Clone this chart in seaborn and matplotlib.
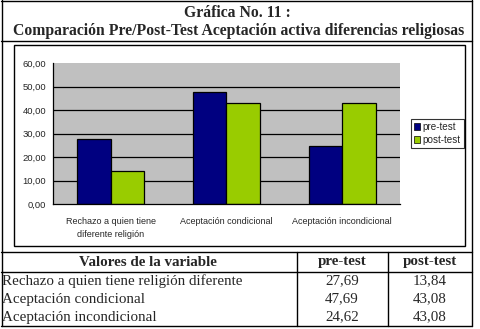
import pandas as pd
import matplotlib
matplotlib.use('Agg')
import matplotlib.pyplot as plt
from matplotlib.lines import Line2D
from matplotlib.patches import Rectangle
import seaborn as sns

# data
categories = ['Rechazo a quien tiene\ndiferente religión',
              'Aceptación condicional',
              'Aceptación incondicional']
table_rows = ['Rechazo a quien tiene religión diferente',
              'Aceptación condicional',
              'Aceptación incondicional']
pre_test = [27.69, 47.69, 24.62]
post_test = [13.84, 43.08, 43.08]
series = ['pre-test', 'post-test']
colors = ['#000080', '#99CC00']
yticks = [0, 10, 20, 30, 40, 50, 60]

df = pd.DataFrame({
    'cat': categories * 2,
    'test': ['pre-test'] * 3 + ['post-test'] * 3,
    'val': pre_test + post_test,
})

sns.set_style('white')
plt.rcParams['font.family'] = ['Liberation Sans', 'DejaVu Sans']

W, H = 480, 329
fig = plt.figure(figsize=(W / 100, H / 100), dpi=100)

def fx(px):
    return px / W

def fy(py):
    return 1 - py / H

def hline(y, x0, x1, lw=1.0):
    fig.add_artist(Line2D([fx(x0), fx(x1)], [fy(y), fy(y)], color='black', lw=lw))

def vline(x, y0, y1, lw=1.0):
    fig.add_artist(Line2D([fx(x), fx(x)], [fy(y0), fy(y1)], color='black', lw=lw))

# frame: title block + table
hline(0.5, 1, 472)
hline(41, 1, 472)
vline(1.5, 0, 326)
vline(472, 0, 326)
hline(252, 1, 472)
hline(272, 1, 472)
hline(325.5, 1, 472)
vline(297, 252, 326)
vline(388, 252, 326)

serif = ['Liberation Serif', 'DejaVu Serif']
fig.text(fx(237), fy(13), 'Gráfica No. 11 :', ha='center', va='center',
         family=serif, weight='bold', fontsize=11.3)
fig.text(fx(239), fy(31), 'Comparación Pre/Post-Test Aceptación activa diferencias religiosas',
         ha='center', va='center', family=serif, weight='bold', fontsize=11.3)

# chart box
fig.add_artist(Rectangle((fx(14), fy(246)), fx(465) - fx(14), fy(45) - fy(246),
                         fill=False, edgecolor='black', lw=1.0, transform=fig.transFigure))

ax = fig.add_axes([fx(53), fy(204), fx(400) - fx(53), fy(63) - fy(204)])
sns.barplot(data=df, x='cat', y='val', hue='test', hue_order=series,
            palette=colors, width=0.58, edgecolor='black', linewidth=0.9,
            saturation=1, errorbar=None, ax=ax, legend=False)
ax.set_facecolor('#C0C0C0')
ax.set_ylim(0, 60)
ax.set_xlim(-0.5, 2.5)
ax.set_yticks(yticks)
ax.set_yticklabels([f'{v:.2f}'.replace('.', ',') for v in yticks], fontsize=6.8)
ax.set_xticks([-0.5, 0.5, 1.5, 2.5])
ax.set_xticklabels([])
ax.set_xticks([0, 1, 2], minor=True)
ax.set_xticklabels(categories, minor=True, fontsize=6.5, linespacing=1.6)
ax.tick_params(axis='x', which='minor', length=0, pad=9)
ax.tick_params(axis='both', which='major', length=3, width=0.8, direction='out',
               color='black', pad=2)
ax.set_xlabel('')
ax.set_ylabel('')
ax.yaxis.grid(True, color='black', lw=0.9)
ax.set_axisbelow(True)
ax.get_ygridlines()[-1].set_visible(False)
ax.get_ygridlines()[0].set_visible(False)
for s in ['top', 'right']:
    ax.spines[s].set_visible(False)
for s in ['left', 'bottom']:
    ax.spines[s].set_color('black')
    ax.spines[s].set_linewidth(0.9)

handles = [Rectangle((0, 0), 1, 1, facecolor=c, edgecolor='black', lw=0.5) for c in colors]
leg = ax.legend(handles, series, loc='upper left', bbox_to_anchor=(fx(411), fy(119)),
                bbox_transform=fig.transFigure, fontsize=7.1, frameon=True, fancybox=False,
                handlelength=0.6, handleheight=0.6, handletextpad=0.3, borderpad=0.3,
                labelspacing=0.3, borderaxespad=0)
leg.get_frame().set_edgecolor('black')
leg.get_frame().set_linewidth(0.8)

# table text
tfs = 10.8
fig.text(fx(148), fy(262), 'Valores de la variable', ha='center', va='center',
         family=serif, weight='bold', fontsize=tfs)
fig.text(fx(342), fy(262), 'pre-test', ha='center', va='center',
         family=serif, weight='bold', fontsize=tfs)
fig.text(fx(430), fy(262), 'post-test', ha='center', va='center',
         family=serif, weight='bold', fontsize=tfs)
for i, name in enumerate(table_rows):
    y = 281 + i * 18
    fig.text(fx(2), fy(y), name, ha='left', va='center', family=serif, fontsize=tfs)
    fig.text(fx(342), fy(y), f'{pre_test[i]:.2f}'.replace('.', ','), ha='center',
             va='center', family=serif, fontsize=tfs)
    fig.text(fx(430), fy(y), f'{post_test[i]:.2f}'.replace('.', ','), ha='center',
             va='center', family=serif, fontsize=tfs)

fig.savefig('out.png', dpi=100, facecolor='white')
